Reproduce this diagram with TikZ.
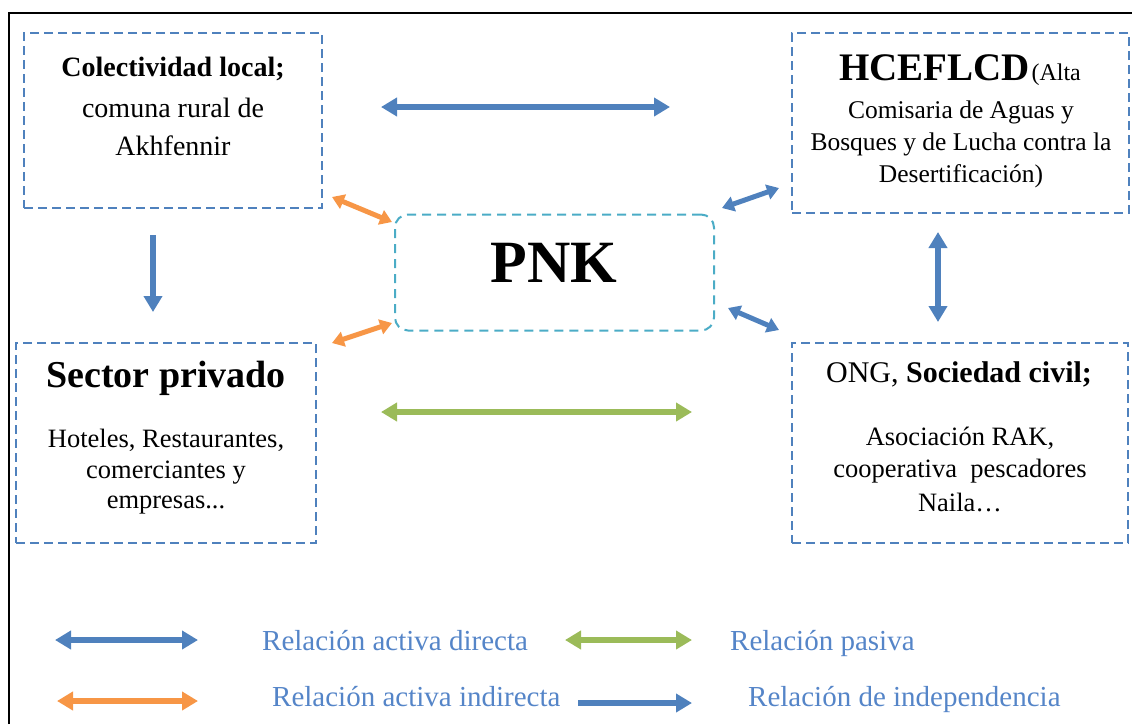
\documentclass[tikz,border=0pt]{standalone}
\usepackage{fontspec}
\setmainfont{LiberationSerif}[Extension=.ttf, UprightFont=*-Regular, BoldFont=*-Bold, ItalicFont=*-Italic, BoldItalicFont=*-BoldItalic]
\usetikzlibrary{arrows.meta}
\definecolor{oblue}{HTML}{4F81BD}
\definecolor{oorange}{HTML}{F79646}
\definecolor{ogreen}{HTML}{9BBB59}
\definecolor{ocyan}{HTML}{4BACC6}
\definecolor{lblue}{HTML}{5585C8}
\tikzset{
  dbox/.style={draw=oblue, line width=2pt, dash pattern=on 9pt off 5pt, inner sep=0pt},
  pnkbox/.style={draw=ocyan, line width=2pt, dash pattern=on 9pt off 6pt, rounded corners=13pt, inner sep=0pt},
  txt/.style={anchor=base, inner sep=0pt, text=black},
  legtxt/.style={anchor=base west, inner sep=0pt, text=lblue, font=\fontsize{29}{34}\selectfont},
  darr/.style={line width=6pt, {Triangle[width=18pt,length=16pt]}-{Triangle[width=18pt,length=16pt]}},
  sarr/.style={line width=6pt, -{Triangle[width=18pt,length=16pt]}},
  sdarr/.style={line width=5pt, {Triangle[width=15pt,length=12pt]}-{Triangle[width=15pt,length=12pt]}},
}
\begin{document}
\begin{tikzpicture}[x=1pt,y=-1pt]
\useasboundingbox (0,0) rectangle (1132,724);
\draw[line width=2pt] (9,724) -- (9,13) -- (1132,13);

% boxes
\node[dbox, minimum width=298pt, minimum height=175pt] (cl) at (173,120.5) {};
\node[dbox, minimum width=337pt, minimum height=180pt] (hc) at (960.5,123) {};
\node[pnkbox, minimum width=319pt, minimum height=116pt] (pnk) at (554.5,272.5) {};
\node[dbox, minimum width=300pt, minimum height=200pt] (sp) at (166,443) {};
\node[dbox, minimum width=336pt, minimum height=200pt] (ong) at (960,443) {};

% texts
\node[txt, font=\fontsize{28}{34}\selectfont\bfseries] (cl1) at (173,76) {Colectividad local;};
\node[txt, font=\fontsize{28}{34}\selectfont] (cl2) at (173,117) {comuna rural de};
\node[txt, font=\fontsize{28}{34}\selectfont] (cl3) at (173,155) {Akhfennir};

\node[txt] (hc1) at (960,80) {{\fontsize{39}{44}\selectfont\bfseries HCEFLCD}\,{\fontsize{24}{30}\selectfont(Alta}};
\node[txt, font=\fontsize{25.5}{30}\selectfont] (hc2) at (961,118) {Comisaria de Aguas y};
\node[txt, font=\fontsize{25.5}{30}\selectfont] (hc3) at (961,150) {Bosques y de Lucha contra la};
\node[txt, font=\fontsize{25.5}{30}\selectfont] (hc4) at (961,182) {Desertificación)};

\node[txt, font=\fontsize{60}{66}\selectfont\bfseries] (pnkt) at (554,282) {PNK};

\node[txt, font=\fontsize{38}{44}\selectfont\bfseries] (sp1) at (166,387) {Sector privado};
\node[txt, font=\fontsize{26.5}{30}\selectfont] (sp2) at (166,447) {Hoteles, Restaurantes,};
\node[txt, font=\fontsize{26.5}{30}\selectfont] (sp3) at (166,478) {comerciantes y};
\node[txt, font=\fontsize{26.5}{30}\selectfont] (sp4) at (166,508) {empresas...};

\node[txt, font=\fontsize{30}{36}\selectfont] (ong1) at (959,382) {ONG, \textbf{Sociedad civil;}};
\node[txt, font=\fontsize{26.5}{30}\selectfont] (ong2) at (960,445) {Asociación RAK,};
\node[txt, font=\fontsize{26.5}{30}\selectfont] (ong3) at (960,477) {cooperativa\ \ pescadores};
\node[txt, font=\fontsize{26.5}{30}\selectfont] (ong4) at (960,511) {Naila…};

% connector end points
\coordinate (t1) at (381,107); \coordinate (t2) at (670,107);
\coordinate (g1) at (381,412); \coordinate (g2) at (692,412);
\coordinate (d1) at (153,235); \coordinate (d2) at (153,312);
\coordinate (v1) at (938,232); \coordinate (v2) at (938,322);
\coordinate (o1) at (332,197); \coordinate (o2) at (392,222);
\coordinate (o3) at (332,343); \coordinate (o4) at (392,323);
\coordinate (b1) at (722,208); \coordinate (b2) at (779,188);
\coordinate (b3) at (728,308); \coordinate (b4) at (779,330);

\draw[darr, oblue] (t1) -- (t2);
\draw[darr, ogreen] (g1) -- (g2);
\draw[sarr, oblue] (d1) -- (d2);
\draw[darr, oblue] (v1) -- (v2);
\draw[sdarr, oorange] (o1) -- (o2);
\draw[sdarr, oorange] (o3) -- (o4);
\draw[sdarr, oblue] (b1) -- (b2);
\draw[sdarr, oblue] (b3) -- (b4);

% legend
\coordinate (l1a) at (55,640); \coordinate (l1b) at (198,640);
\coordinate (l2a) at (565,640); \coordinate (l2b) at (692,640);
\coordinate (l3a) at (57,701); \coordinate (l3b) at (198,701);
\coordinate (l4a) at (578,703); \coordinate (l4b) at (692,703);
\draw[darr, oblue] (l1a) -- (l1b);
\draw[darr, ogreen] (l2a) -- (l2b);
\draw[darr, oorange] (l3a) -- (l3b);
\draw[sarr, oblue] (l4a) -- (l4b);
\node[legtxt] (lt1) at (262,650) {Relación activa directa};
\node[legtxt] (lt2) at (730,650) {Relación pasiva};
\node[legtxt] (lt3) at (272,706) {Relación activa indirecta};
\node[legtxt] (lt4) at (748,706) {Relación de independencia};
\end{tikzpicture}
\end{document}
